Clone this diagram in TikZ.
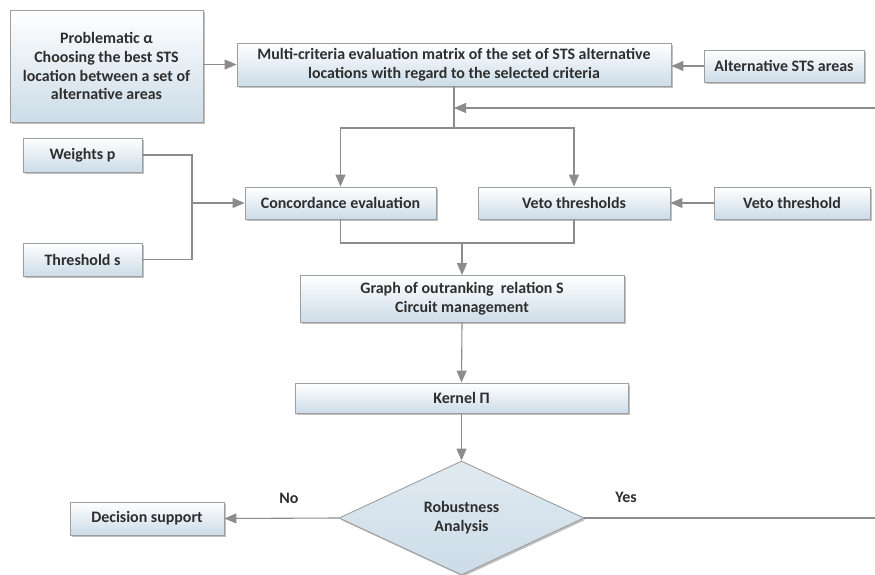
\documentclass[tikz,border=0pt]{standalone}
\usepackage{fontspec}
\setmainfont{Carlito}
\usetikzlibrary{arrows.meta,shapes.geometric,shadows}
\definecolor{linegray}{HTML}{8C8C8C}
\definecolor{boxedge}{HTML}{9E9E9E}
\definecolor{boxlow}{HTML}{CCDCE8}
\definecolor{txt}{HTML}{2E2E2E}
\begin{document}
\begin{tikzpicture}[x=1bp,y=-1bp,
  box/.style={draw=boxedge, line width=0.9bp, top color=white, bottom color=boxlow,
    drop shadow={shadow xshift=1.6bp, shadow yshift=-1.8bp, fill=black!45, opacity=0.55},
    align=center, inner sep=2bp, text=txt,
    font=\fontsize{16}{19}\selectfont\bfseries},
  decision/.style={box, shape=diamond, aspect=2.15, top color=boxlow!60, bottom color=boxlow},
  link/.style={draw=linegray, line width=1.1bp},
  arr/.style={link, -{Triangle[length=12bp,width=10bp]}, color=linegray},
  lbl/.style={text=txt, font=\fontsize{16}{19}\selectfont\bfseries}]
\useasboundingbox (0,0) rectangle (875,575);

% boxes
\node[box, minimum width=193bp, minimum height=112bp] (prob) at (106.5,66)
  {Problematic α\\Choosing the best STS\\location between a set of\\alternative areas};
\node[box, minimum width=434bp, minimum height=43bp] (matrix) at (454,64.5)
  {Multi-criteria evaluation matrix of the set of STS alternative\\locations with regard to the selected criteria};
\node[box, minimum width=160bp, minimum height=32bp] (alt) at (784,66) {Alternative STS areas};
\node[box, minimum width=119bp, minimum height=34bp] (weights) at (82.5,155) {Weights p};
\node[box, minimum width=119bp, minimum height=33bp] (thresh) at (82.5,259.5) {Threshold s};
\node[box, minimum width=191bp, minimum height=32bp] (conc) at (340.5,203) {Concordance evaluation};
\node[box, minimum width=192bp, minimum height=32bp] (veto) at (574,203) {Veto thresholds};
\node[box, minimum width=156bp, minimum height=32bp] (vetoth) at (792,203) {Veto threshold};
\node[box, minimum width=324bp, minimum height=47bp] (graph) at (462,299)
  {Graph of outranking\ \ relation S\\Circuit management};
\node[box, minimum width=333bp, minimum height=30bp] (kernel) at (461.5,398) {Kernel Π};
\node[decision, minimum width=245bp, minimum height=114bp] (robust) at (461.5,518)
  {Robustness\\Analysis};
\node[box, minimum width=154bp, minimum height=33bp] (support) at (147,518.5) {Decision support};

% junction points
\coordinate (feed) at (875,108);
\coordinate (mjoin) at (454,108);
\coordinate (split) at (454,128);
\coordinate (wjoin) at (192,203);
\coordinate (cjoin) at (462,243);
\coordinate (yesend) at (875,518);

% connectors
\draw[arr] (prob.east |- matrix.west) -- (matrix.west);
\draw[arr] (alt.west) -- (alt.west -| matrix.east);
\draw[link] (matrix.south) -- (split);
\draw[arr] (feed) -- (mjoin);
\draw[arr] (split) -| (conc.north);
\draw[arr] (split) -| (veto.north);
\draw[link] (weights.east) -| (wjoin) |- (thresh.east);
\draw[arr] (wjoin) -- (conc.west);
\draw[arr] (vetoth.west) -- (veto.east);
\draw[link] (conc.south) |- (cjoin) -| (veto.south);
\draw[arr] (cjoin) -- (graph.north);
\draw[arr] (graph.south) -- (kernel.north);
\draw[arr] (kernel.south) -- (robust.north);
\draw[arr] (robust.west) -- (support.east);
\draw[link] (robust.east) -- (yesend);

\node[lbl] (no) at (289,498) {No};
\node[lbl] (yes) at (626,497) {Yes};
\end{tikzpicture}
\end{document}
